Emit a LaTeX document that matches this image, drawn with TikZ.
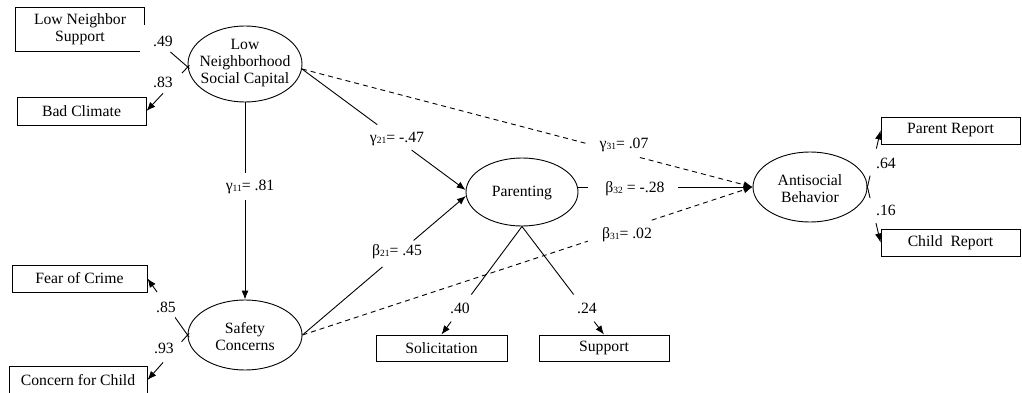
\documentclass[tikz,border=0pt]{standalone}
\usepackage{fontspec}
\setmainfont{Liberation Serif}
\usetikzlibrary{shapes.geometric,arrows.meta,calc}
\newcommand\subnum[1]{\raisebox{-1pt}{\fontsize{9.5}{9.5}\selectfont #1}}
\begin{document}
\begin{tikzpicture}[x=1pt,y=-1pt,
  font=\fontsize{15.7}{17}\selectfont,
  line width=0.9pt,
  obs/.style={draw, rectangle, inner sep=0pt},
  lat/.style={draw, ellipse, inner sep=0pt},
  txt/.style={align=center, inner sep=0pt},
  lbl/.style={inner sep=0pt},
  arr/.style={-{Latex[length=9pt,width=7pt]}},
  dsh/.style={dash pattern=on 5pt off 4pt}
]
\useasboundingbox (0,0) rectangle (1022,393);

% observed boxes
\node[txt, minimum width=128pt, minimum height=43pt] (lns) at (80,29.5) {Low Neighbor\\Support};
\draw ([yshift=-17pt]lns.north east) -- (lns.north east) -- (lns.north west) -- (lns.south west) -- ([xshift=-4pt]lns.south east);
\node[obs, minimum width=129pt, minimum height=28pt] (bc) at (81.5,111) {Bad Climate};
\node[obs, minimum width=135pt, minimum height=27pt] (foc) at (79.5,278.5) {Fear of Crime};
\node[obs, minimum width=138pt, minimum height=28pt] (cfc) at (78,380) {Concern for Child};
\node[obs, minimum width=131pt, minimum height=26pt] (sol) at (441.5,348) {Solicitation};
\node[obs, minimum width=130pt, minimum height=26pt] (sup) at (604,348) {Support};
\node[obs, minimum width=139pt, minimum height=27pt] (pr) at (950.5,130.5) {Parent Report};
\node[obs, minimum width=139pt, minimum height=27pt] (cr) at (950.5,242.5) {Child\ \ Report};

% latent ellipses
\node[lat, minimum width=114pt, minimum height=76pt] (lnsc) at (245,64) {};
\node[txt] (lnsc-t) at (245,63) {Low\\Neighborhood\\Social Capital};
\node[lat, minimum width=114pt, minimum height=70pt] (sc) at (245,335) {};
\node[txt] (sc-t) at (245,336.5) {Safety\\Concerns};
\node[lat, minimum width=112pt, minimum height=68pt] (par) at (522,192) {};
\node[txt] (par-t) at (522,193) {Parenting};
\node[lat, minimum width=114pt, minimum height=70pt] (asb) at (810,187) {};
\node[txt] (asb-t) at (810,188.5) {Antisocial\\Behavior};

% loadings
\draw ($(lnsc.183)!-0.04!(lns.east)$) -- ($(lnsc.183)!0.4!(lns.east)$);
\draw ($(lnsc.183)!-0.04!(bc.east)$) -- ($(lnsc.183)!0.14!(bc.east)$);
\draw[arr] ($(lnsc.183)!0.6!(bc.east)$) -- (bc.east);
\draw ($(sc.west)!-0.04!(foc.east)$) -- ($(sc.west)!0.31!(foc.east)$);
\draw[arr] ($(sc.west)!0.76!(foc.east)$) -- (foc.east);
\draw ($(sc.west)!-0.04!(cfc.east)$) -- ($(sc.west)!0.15!(cfc.east)$);
\draw[arr] ($(sc.west)!0.61!(cfc.east)$) -- (cfc.east);
\draw ($(asb.east)!-0.03!(pr.west)$) -- ($(asb.east)!0.2!(pr.west)$);
\draw[arr] ($(asb.east)!0.68!(pr.west)$) -- (pr.west);
\draw ($(asb.east)!-0.03!(cr.west)$) -- ($(asb.east)!0.2!(cr.west)$);
\draw[arr] ($(asb.east)!0.65!(cr.west)$) -- (cr.west);
\draw (par.south) -- ($(par.south)!0.63!(sol.north)$);
\draw[arr] ($(par.south)!0.88!(sol.north)$) -- (sol.north);
\draw (par.south) -- ($(par.south)!0.63!(sup.north)$);
\draw[arr] ($(par.south)!0.88!(sup.north)$) -- (sup.north);

% structural paths
\draw (lnsc.south) -- ($(lnsc.south)!0.36!(sc.north)$);
\draw[arr] ($(lnsc.south)!0.495!(sc.north)$) -- (sc.north);
\draw (lnsc.-5) -- ($(lnsc.-5)!0.46!(par.178)$);
\draw[arr] ($(lnsc.-5)!0.67!(par.178)$) -- (par.178);
\draw (sc.east) -- ($(sc.east)!0.49!(par.184)$);
\draw[arr] ($(sc.east)!0.68!(par.184)$) -- (par.184);
\draw[dsh] (lnsc.-5) -- ($(lnsc.-5)!0.635!(asb.west)$);
\draw[dsh,arr] ($(lnsc.-5)!0.75!(asb.west)$) -- (asb.west);
\draw[dsh] (sc.east) -- ($(sc.east)!0.634!(asb.west)$);
\draw[dsh,arr] ($(sc.east)!0.776!(asb.west)$) -- (asb.west);
\draw (par.east |- asb.west) -- ($(par.east |- asb.west)!0.057!(asb.west)$);
\draw[arr] ($(par.east |- asb.west)!0.571!(asb.west)$) -- (asb.west);

% labels
\node[lbl] (l49) at (163,41) {.49};
\node[lbl] (l83) at (163,82) {.83};
\node[lbl] (l85) at (166,307) {.85};
\node[lbl] (l93) at (164,348) {.93};
\node[lbl] (l40) at (460,308) {.40};
\node[lbl] (l24) at (587,308) {.24};
\node[lbl] (l64) at (886,163) {.64};
\node[lbl] (l16) at (886,210) {.16};
\node[lbl] (g11) at (250,187) {γ\subnum{11}= .81};
\node[lbl] (g21) at (397,139) {γ\subnum{21}= -.47};
\node[lbl] (b21) at (397,252) {β\subnum{21}= .45};
\node[lbl] (g31) at (624,145) {γ\subnum{31}= .07};
\node[lbl] (b32) at (635,189) {β\subnum{32} = -.28};
\node[lbl] (b31) at (627,235) {β\subnum{31}= .02};
\end{tikzpicture}
\end{document}
